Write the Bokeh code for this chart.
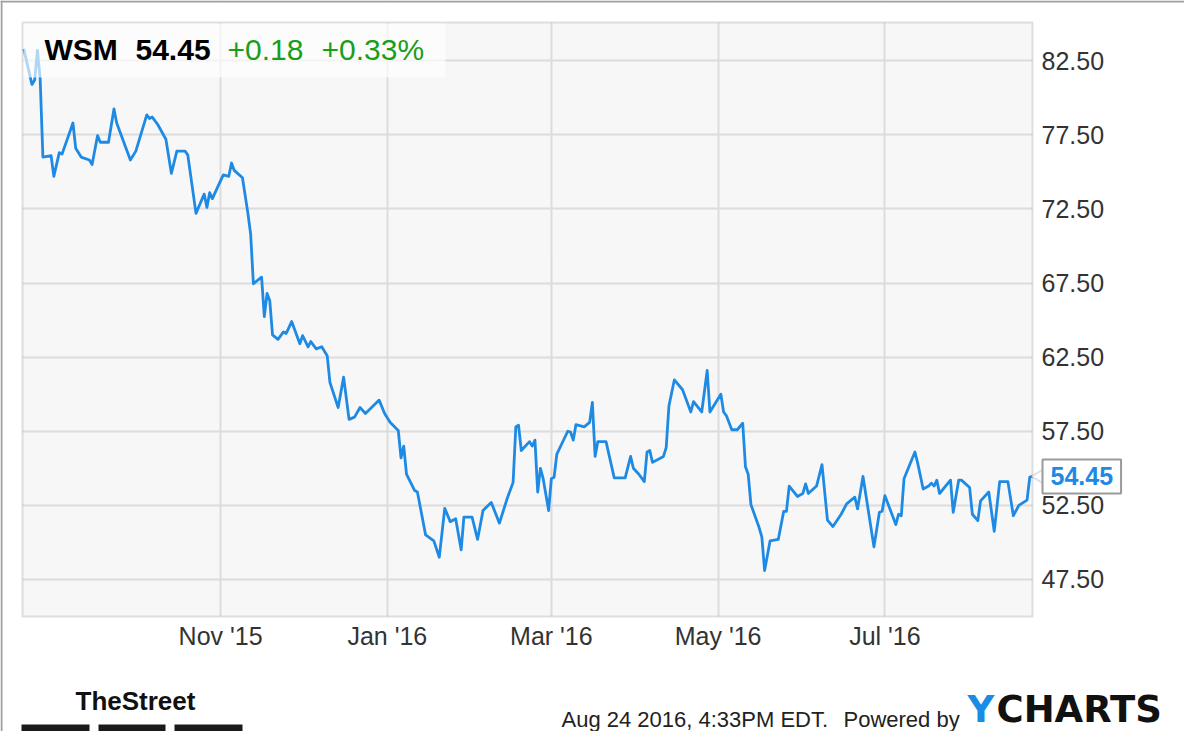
import pandas as pd
from bokeh.plotting import figure
from bokeh.models import (Range1d, FixedTicker, DatetimeTickFormatter, NumeralTickFormatter,
                          Label, BoxAnnotation, PolyAnnotation, ColumnDataSource)
from bokeh.embed import file_html
from bokeh.resources import INLINE

# ---------------- data ----------------
ticker_symbol = "WSM"
last_price = "54.45"
last_value = 54.45
change_abs = "+0.18"
change_pct = "+0.33%"
timestamp_text = "Aug 24 2016, 4:33PM EDT."
powered_text = "Powered by"
brand_first = "Y"
brand_rest = "CHARTS"
publisher = "TheStreet"

x_tick_dates = ["2015-11-01", "2016-01-01", "2016-03-01", "2016-05-01", "2016-07-01"]
x_tick_labels = ["Nov '15", "Jan '16", "Mar '16", "May '16", "Jul '16"]
y_ticks = [47.5, 52.5, 57.5, 62.5, 67.5, 72.5, 77.5, 82.5]

dates = [
    "2015-08-21", "2015-08-24", "2015-08-25", "2015-08-26", "2015-08-27", "2015-08-28",
    "2015-08-31", "2015-09-01", "2015-09-03", "2015-09-04", "2015-09-08", "2015-09-09",
    "2015-09-11", "2015-09-14", "2015-09-15", "2015-09-17", "2015-09-18", "2015-09-21",
    "2015-09-23", "2015-09-24", "2015-09-29", "2015-10-01", "2015-10-05", "2015-10-06",
    "2015-10-07", "2015-10-09", "2015-10-12", "2015-10-14", "2015-10-16", "2015-10-19",
    "2015-10-20", "2015-10-23", "2015-10-26", "2015-10-27", "2015-10-28", "2015-10-29",
    "2015-10-31", "2015-11-02", "2015-11-04", "2015-11-05", "2015-11-06", "2015-11-09",
    "2015-11-11", "2015-11-12", "2015-11-13", "2015-11-16", "2015-11-17", "2015-11-18",
    "2015-11-19", "2015-11-20", "2015-11-22", "2015-11-24", "2015-11-25", "2015-11-27",
    "2015-11-30", "2015-12-01", "2015-12-03", "2015-12-04", "2015-12-06", "2015-12-08",
    "2015-12-10", "2015-12-11", "2015-12-14", "2015-12-16", "2015-12-18", "2015-12-20",
    "2015-12-22", "2015-12-24", "2015-12-29", "2015-12-31", "2016-01-02", "2016-01-05",
    "2016-01-06", "2016-01-07", "2016-01-08", "2016-01-11", "2016-01-12", "2016-01-15",
    "2016-01-18", "2016-01-20", "2016-01-22", "2016-01-24", "2016-01-26", "2016-01-28",
    "2016-01-29", "2016-02-01", "2016-02-03", "2016-02-05", "2016-02-08", "2016-02-11",
    "2016-02-14", "2016-02-16", "2016-02-17", "2016-02-18", "2016-02-19", "2016-02-22",
    "2016-02-23", "2016-02-24", "2016-02-25", "2016-02-26", "2016-02-27", "2016-02-29",
    "2016-03-01", "2016-03-02", "2016-03-03", "2016-03-07", "2016-03-08", "2016-03-09",
    "2016-03-10", "2016-03-13", "2016-03-15", "2016-03-16", "2016-03-17", "2016-03-18",
    "2016-03-21", "2016-03-24", "2016-03-28", "2016-03-30", "2016-03-31", "2016-04-02",
    "2016-04-04", "2016-04-05", "2016-04-06", "2016-04-07", "2016-04-11", "2016-04-12",
    "2016-04-13", "2016-04-15", "2016-04-18", "2016-04-21", "2016-04-22", "2016-04-25",
    "2016-04-27", "2016-04-28", "2016-05-02", "2016-05-03", "2016-05-04", "2016-05-06",
    "2016-05-08", "2016-05-10", "2016-05-11", "2016-05-12", "2016-05-13", "2016-05-16",
    "2016-05-17", "2016-05-18", "2016-05-20", "2016-05-23", "2016-05-25", "2016-05-26",
    "2016-05-27", "2016-05-30", "2016-06-01", "2016-06-02", "2016-06-03", "2016-06-06",
    "2016-06-08", "2016-06-10", "2016-06-12", "2016-06-15", "2016-06-17", "2016-06-20",
    "2016-06-21", "2016-06-23", "2016-06-27", "2016-06-29", "2016-06-30", "2016-07-01",
    "2016-07-05", "2016-07-06", "2016-07-07", "2016-07-08", "2016-07-10", "2016-07-12",
    "2016-07-13", "2016-07-15", "2016-07-17", "2016-07-18", "2016-07-19", "2016-07-20",
    "2016-07-21", "2016-07-25", "2016-07-26", "2016-07-28", "2016-07-29", "2016-08-01",
    "2016-08-02", "2016-08-04", "2016-08-05", "2016-08-08", "2016-08-10", "2016-08-12",
    "2016-08-15", "2016-08-17", "2016-08-19", "2016-08-22", "2016-08-23", "2016-08-24",
]
prices = [
    83.3, 80.9, 81.2, 83.2, 81.3, 76.0,
    76.1, 74.7, 76.3, 76.2, 78.3, 76.6,
    76.0, 75.8, 75.5, 77.45, 77.0, 77.0,
    79.25, 78.3, 75.8, 76.4, 78.85, 78.6,
    78.7, 78.2, 77.2, 74.9, 76.4, 76.4,
    76.15, 72.2, 73.5, 72.6, 73.6, 73.2,
    74.0, 74.8, 74.7, 75.6, 75.1, 74.6,
    72.2, 70.8, 67.45, 67.9, 65.24, 66.8,
    66.3, 64.0, 63.7, 64.2, 64.1, 64.9,
    63.4, 63.95, 63.2, 63.55, 63.06, 63.2,
    62.6, 60.8, 59.1, 61.15, 58.3, 58.45,
    59.1, 58.7, 59.6, 58.7, 58.1, 57.55,
    55.7, 56.5, 54.6, 53.5, 53.4, 50.5,
    50.1, 49.0, 52.3, 51.4, 51.6, 49.5,
    51.7, 51.7, 50.2, 52.15, 52.7, 51.3,
    53.05, 54.05, 57.8, 57.9, 56.2, 56.8,
    56.5, 56.9, 53.4, 55.0, 54.3, 52.15,
    54.3, 54.4, 55.95, 57.5, 57.45, 56.9,
    57.95, 57.8, 58.1, 59.45, 55.8, 56.8,
    56.8, 54.35, 54.35, 55.8, 55.0, 54.6,
    54.1, 56.1, 56.2, 55.4, 55.8, 56.4,
    59.2, 60.97, 60.3, 58.8, 59.5, 58.8,
    61.6, 58.8, 60.0, 58.8, 58.56, 57.6,
    57.6, 58.04, 55.1, 54.6, 52.55, 51.0,
    50.35, 48.1, 50.1, 50.2, 52.1, 52.1,
    53.8, 53.1, 53.3, 53.95, 53.3, 53.8,
    55.25, 51.5, 51.07, 51.9, 52.6, 53.05,
    52.26, 54.45, 49.7, 52.03, 52.1, 53.16,
    51.2, 51.9, 51.8, 54.3, 55.2, 56.1,
    55.35, 53.6, 53.8, 54.0, 53.8, 54.2,
    53.3, 54.2, 52.03, 54.2, 54.2, 53.7,
    51.9, 51.47, 52.8, 53.4, 50.75, 54.1,
    54.1, 51.8, 52.5, 52.85, 54.4, 54.45,
]

# ---------------- styles / layout ----------------
LINE_BLUE = "#1f8ae4"
GREEN = "#1a9e1a"
GRAY_LINE = "#9a9a9a"
AXIS_FONT = "Liberation Sans"

W, H = 1184, 731
# visible plot area (picture px)
PA_L, PA_T, PA_R, PA_B = 22, 22, 1032, 616
# the plot area spans these data limits
pa_x0 = pd.Timestamp("2015-08-20 13:00")
pa_x1 = pd.Timestamp("2016-08-24 00:00")
pa_y0, pa_y1 = 45.0, 85.08

# the Bokeh frame covers the whole canvas; extend the ranges linearly to it
xspan = (pa_x1 - pa_x0) / (PA_R - PA_L)
yspan = (pa_y1 - pa_y0) / (PA_B - PA_T)
x_range = Range1d(pa_x0 - xspan * PA_L, pa_x1 + xspan * (W - PA_R))
y_range = Range1d(pa_y0 - yspan * (H - PA_B), pa_y1 + yspan * PA_T)


def sx(px):
    return px


def sy(py):
    return H - py


src = ColumnDataSource(dict(date=pd.to_datetime(dates), price=prices))

p = figure(width=W, height=H, x_axis_type="datetime", y_axis_location="right",
           x_range=x_range, y_range=y_range,
           output_backend="svg", toolbar_location=None,
           min_border_left=0, min_border_top=0, min_border_right=0, min_border_bottom=0,
           background_fill_color="#f7f7f7", border_fill_color="white",
           outline_line_color=None)

tick_ms = [int(pd.Timestamp(d).value // 10**6) for d in x_tick_dates]
p.xaxis.ticker = FixedTicker(ticks=tick_ms)
fmt = "%b '%y"
p.xaxis.formatter = DatetimeTickFormatter(milliseconds=fmt, seconds=fmt, minsec=fmt, minutes=fmt,
                                          hourmin=fmt, hours=fmt, days=fmt, months=fmt, years=fmt)
p.xaxis.major_label_overrides = {ms: lab for ms, lab in zip(tick_ms, x_tick_labels)}
p.yaxis.ticker = FixedTicker(ticks=y_ticks)
p.yaxis.formatter = NumeralTickFormatter(format="0.00")

for ax in (p.xaxis[0], p.yaxis[0]):
    ax.axis_line_color = None
    ax.major_tick_line_color = None
    ax.minor_tick_line_color = None
    ax.major_tick_out = 0
    ax.major_tick_in = 0
    ax.major_label_text_font = AXIS_FONT
    ax.major_label_text_font_size = "25px"
    ax.major_label_text_color = "#333333"
# labels pulled back from the canvas edge to sit beside / under the plot area
p.yaxis.major_label_standoff = (1043 - W) - 2
p.xaxis.major_label_standoff = 5 - (H - PA_B)

p.xgrid.grid_line_color = "#dcdcdc"
p.xgrid.grid_line_width = 2
p.ygrid.grid_line_color = "#dcdcdc"
p.ygrid.grid_line_width = 2


def box(l, r, b, t, color, alpha=1.0, level="annotation", line=None, lw=0):
    p.add_layout(BoxAnnotation(left=sx(l), right=sx(r), bottom=sy(b), top=sy(t),
                               left_units="screen", right_units="screen",
                               top_units="screen", bottom_units="screen",
                               fill_color=color, fill_alpha=alpha, level=level,
                               line_color=line, line_width=lw))


# white margins around the plot area (cover grid lines outside it)
box(0, PA_L, H, 0, "white", level="underlay")
box(0, W, PA_T, 0, "white", level="underlay")
box(PA_R, W, H, 0, "white", level="underlay")
box(0, W, H, PA_B, "white", level="underlay")
# plot area border
p.add_layout(BoxAnnotation(left=sx(PA_L), right=sx(PA_R), bottom=sy(PA_B), top=sy(PA_T),
                           left_units="screen", right_units="screen",
                           top_units="screen", bottom_units="screen",
                           fill_alpha=0, line_color=GRAY_LINE, line_width=2, level="underlay"))
# outer picture frame (left and top edges)
box(0, 2, H, 0, "#a0a0a0")
box(0, W, 2, 0, "#a0a0a0")

p.line(x="date", y="price", source=src, line_color=LINE_BLUE, line_width=2.8,
       line_join="round")

# header band (semi-transparent) with quote text
box(PA_L + 1, 445, 77, PA_T + 1, "white", alpha=0.65)


def lab(text, px, py_center, size, color="#000000", style="normal", font=AXIS_FONT):
    p.add_layout(Label(x=sx(px), y=sy(py_center), x_units="screen", y_units="screen", text=text,
                       text_font=font, text_font_size=f"{size}px", text_color=color,
                       text_font_style=style, text_align="left", text_baseline="middle"))


lab(ticker_symbol, 44, 49, 30, "#000000", "bold")
lab(last_price, 135, 49, 30, "#000000", "bold")
lab(change_abs, 227, 49, 30, GREEN)
lab(change_pct, 321, 49, 30, GREEN)

# last-value tag
p.add_layout(PolyAnnotation(xs=[sx(1031), sx(1046), sx(1046)],
                            ys=[last_value, last_value + 0.6, last_value - 0.6],
                            xs_units="screen", ys_units="data",
                            fill_color="white", fill_alpha=1.0, line_color=GRAY_LINE,
                            line_width=2))
p.add_layout(Label(x=sx(1042), y=last_value, x_units="screen", y_units="data", text=last_price,
                   text_font=AXIS_FONT, text_font_size="25px", text_font_style="bold",
                   text_color=LINE_BLUE, text_align="left", text_baseline="middle",
                   background_fill_color="white", border_line_color=GRAY_LINE,
                   border_line_width=2, padding=8))

# footer
lab(timestamp_text, 561, 719, 22, "#222222")
lab(powered_text, 843, 719, 22, "#222222")
lab(brand_first, 967, 709, 37, "#1a8ce6", "bold", "DejaVu Sans")
lab(brand_rest, 996, 709, 37, "#111111", "bold", "DejaVu Sans")
lab(publisher, 75, 700, 26, "#111111", "bold")
for l, r in [(21, 89), (98, 165), (174, 242)]:
    box(l, r, 731, 724, "#1a1a1a")

open("out.html", "w").write(file_html(p, INLINE))
